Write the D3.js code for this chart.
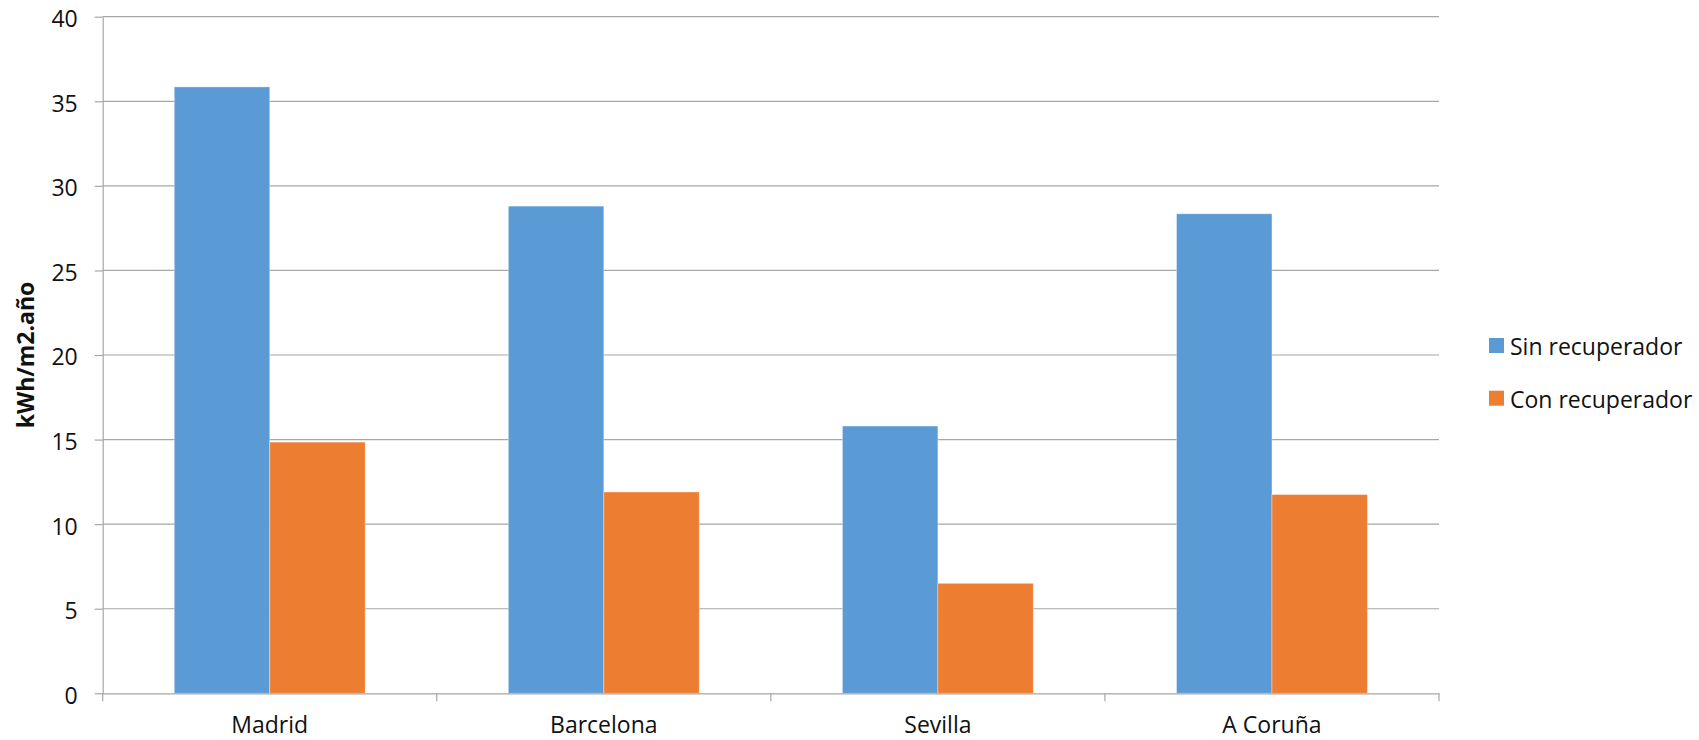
<!DOCTYPE html>
<html>
<head>
<meta charset="utf-8">
<script src="https://cdn.jsdelivr.net/npm/d3@7"></script>
<style>
  html, body { margin: 0; padding: 0; background: #fff; }
  svg { display: block; font-family: "Open Sans", sans-serif; }
</style>
</head>
<body>
<svg id="chart" width="1699" height="740"></svg>
<script>
const categories = ["Madrid", "Barcelona", "Sevilla", "A Coruña"];
const seriesNames = ["Sin recuperador", "Con recuperador"];
const sinRecuperador = [35.85, 28.8, 15.8, 28.35];
const conRecuperador = [14.85, 11.9, 6.5, 11.75];
const yTicks = [0, 5, 10, 15, 20, 25, 30, 35, 40];
const yLabel = "kWh/m2.año";
const colors = ["#5B9BD5", "#ED7D31"];

(function () {
const svg = d3.select("#chart");
const plotLeft = 102.7, plotRight = 1439, plotTop = 16.7, plotBottom = 693.3;
const fontSize = 23;
const gridColor = "#a6a6a6";

const y = d3.scaleLinear().domain([0, 40]).range([plotBottom, plotTop]);
const x0 = d3.scaleBand().domain(categories).range([plotLeft, plotRight]).paddingInner(0).paddingOuter(0);
const x1 = d3.scaleBand().domain(seriesNames).range([0, x0.bandwidth()]).paddingInner(0).paddingOuter(0.75);

// gridlines
svg.append("g").selectAll("line").data(yTicks.filter(d => d !== 0)).join("line")
  .attr("x1", plotLeft).attr("x2", plotRight)
  .attr("y1", d => y(d)).attr("y2", d => y(d))
  .attr("stroke", gridColor).attr("stroke-width", 1.2);

// bars
const series = [sinRecuperador, conRecuperador];
const rows = categories.map((c, i) => ({ c, vals: seriesNames.map((s, j) => ({ s, v: series[j][i], j })) }));
svg.append("g").selectAll("g").data(rows).join("g")
  .attr("transform", d => `translate(${x0(d.c)},0)`)
  .selectAll("rect").data(d => d.vals).join("rect")
  .attr("x", d => x1(d.s))
  .attr("width", x1.bandwidth())
  .attr("y", d => y(d.v))
  .attr("height", d => y(0) - y(d.v))
  .attr("fill", d => colors[d.j])
  .attr("stroke", "rgba(255,255,255,0.35)")
  .attr("stroke-width", 1);

// y axis
const yAxis = d3.axisLeft(y).tickValues(yTicks).tickSize(8).tickPadding(17).tickSizeOuter(0);
svg.append("g").attr("transform", `translate(${plotLeft},0)`).call(yAxis)
  .call(g => g.select(".domain").attr("stroke", gridColor).attr("stroke-width", 1.2))
  .call(g => g.selectAll(".tick line").attr("stroke", gridColor).attr("stroke-width", 1.2))
  .call(g => g.selectAll(".tick text").attr("font-size", fontSize).attr("font-family", "Open Sans")
    .attr("fill", "#111").attr("dy", "0.43em"));

// x axis
const xAxis = d3.axisBottom(x0).tickSize(0).tickPadding(0).tickSizeOuter(0);
svg.append("g").attr("transform", `translate(0,${plotBottom})`).call(xAxis)
  .call(g => g.select(".domain").attr("stroke", gridColor).attr("stroke-width", 1.2))
  .call(g => g.selectAll(".tick text").attr("font-size", fontSize).attr("font-family", "Open Sans")
    .attr("fill", "#111").attr("y", 39.5).attr("dy", 0));

// x boundary ticks
const boundaries = categories.map(c => x0(c)).concat([x0.range()[1]]);
svg.append("g").selectAll("line").data(boundaries).join("line")
  .attr("x1", d => d).attr("x2", d => d)
  .attr("y1", plotBottom).attr("y2", plotBottom + 8)
  .attr("stroke", gridColor).attr("stroke-width", 1.2);

// y label
svg.append("text")
  .attr("transform", `translate(34,${(plotTop + plotBottom) / 2}) rotate(-90)`)
  .attr("text-anchor", "middle")
  .attr("font-size", fontSize).attr("font-weight", "bold")
  .attr("fill", "#111")
  .text(yLabel);

// legend
const legend = svg.append("g").selectAll("g").data(seriesNames).join("g")
  .attr("transform", (d, i) => `translate(1489,${338 + i * 52.7})`);
legend.append("rect").attr("width", 15).attr("height", 15).attr("fill", (d, i) => colors[i]);
legend.append("text").attr("x", 21).attr("y", 17)
  .attr("font-size", fontSize).attr("fill", "#111").text(d => d);
})();
</script>
</body>
</html>
